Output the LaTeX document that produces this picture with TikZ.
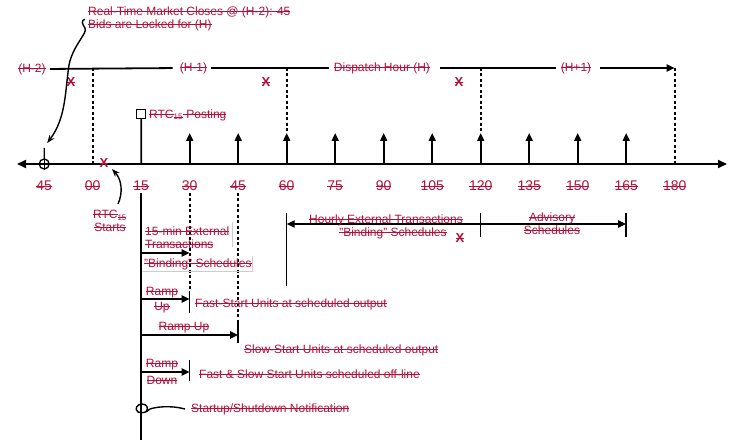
\documentclass[tikz,border=0pt]{standalone}
\usepackage{fontspec}
\setmainfont{Liberation Sans}
\usetikzlibrary{arrows.meta}
\definecolor{tred}{RGB}{178,16,58}
\newsavebox{\stbox}
\newcommand{\st}[1]{\sbox{\stbox}{#1}\rlap{\rule[0.3em]{\wd\stbox}{0.9pt}}\usebox{\stbox}}
\begin{document}
\begin{tikzpicture}[x=1pt,y=-1pt,
  ln/.style={line width=1.8pt},
  dline/.style={line width=1.8pt,dash pattern=on 3pt off 2.5pt},
  tip/.style={-{Triangle[length=8pt,width=7pt]}},
  lbl/.style={text=tred,font=\fontsize{12}{13}\selectfont,inner sep=0pt},
  num/.style={text=tred,font=\fontsize{14}{15}\selectfont,inner sep=0pt},
  xm/.style={text=tred,font=\fontsize{13}{14}\selectfont\bfseries,inner sep=0pt},
  bar/.style={line width=1.5pt},
  grayedge/.style={line width=0.6pt,black!20}]
\useasboundingbox (0,0) rectangle (730,443);
\fill[white] (0,0) rectangle (730,443);

% axis
\coordinate (axL) at (17,164);
\coordinate (axR) at (727,164);
\draw[ln,{Triangle[length=9pt,width=8pt]}-{Triangle[length=9pt,width=8pt]}] (axL) -- (axR);

% base and top coordinates
\foreach \t in {-15,0,15,...,180} {
  \pgfmathsetmacro\xx{92.7+3.2333*\t}
  \coordinate (b\t) at (\xx,164);
  \coordinate (u\t) at (\xx,133);
  \coordinate (t\t) at (\xx,68);
}
% upward arrows
\foreach \t in {30,45,...,165} {
  \draw[ln,tip] (b\t) -- (u\t);
}
% axis labels
\foreach \t/\lab in {-15/45,0/00,15/15,30/30,45/45,60/60,75/75,90/90,105/105,120/120,135/135,150/150,165/165,180/180} {
  \pgfmathsetmacro\xx{92.7+3.2333*\t}
  \node[num] (n\t) at (\xx,186) {\st{\lab}};
}

% circle-plus at 45
\node[circle,draw,line width=1.3pt,minimum size=10pt,inner sep=0pt] (circ) at (b-15) {};
\draw[line width=1.1pt] (circ.north) -- (circ.south) (circ.west) -- (circ.east);
\coordinate (stem) at (44.2,148);
\draw[line width=1.4pt] (circ.north) -- (stem);

% top timeline
\node[lbl] (h2) at (32,69) {\st{(H-2)}};
\node[lbl] (h1) at (193.5,68) {\st{(H-1)}};
\node[lbl] (hh) at (382,68) {\st{Dispatch Hour (H)}};
\node[lbl] (hp) at (576,68) {\st{(H+1)}};
\draw[ln,shorten <=4pt,shorten >=7pt] (h2.east) -- (h1.west);
\draw[ln,shorten <=4pt,shorten >=5pt] (h1.east) -- (hh.west);
\draw[ln,shorten <=10pt,shorten >=5pt] (hh.east) -- (hp.west);
\draw[ln,tip,shorten <=9pt] (hp.east) -- (t180);

% dashed verticals
\draw[dline] (t0) -- (b0);
\draw[dline] (t60) -- (u60);
\draw[dline] (t120) -- (u120);
\draw[dline] (t180) -- (b180);

% X marks
\node[xm] (x1) at (71,82) {\st{X}};
\node[xm] (x2) at (266,82) {\st{X}};
\node[xm] (x3) at (459,82) {\st{X}};
\node[xm] (x4) at (104,163) {\st{X}};
\node[xm] (x5) at (460,238) {\st{X}};

% annotation at top
\node[lbl,anchor=north west,align=left] (ann) at (88,7) {\st{Real-Time Market Closes @ (H-2): 45}\\\st{Bids are Locked for (H)}};
\draw[line width=1.4pt,-{Stealth[length=8pt,width=6pt]}] ([xshift=-3pt]ann.west) .. controls (81,20) and (82,24) .. (85,28)
  .. controls (88,33) and (73,45) .. (69,65) .. controls (65,92) and (66,118) .. ([shift={(3,-5)}]stem);

% RTC15 posting
\node[draw,line width=1.4pt,minimum size=9pt,inner sep=0pt] (sq) at (141.2,114) {};
\draw[ln] (b15) -- (sq.south);
\node[lbl,anchor=west] (post) at (149,115) {\st{RTC}\textsubscript{\st{15}}\st{\ Posting}};

% RTC15 starts
\node[lbl,align=center] (rtc) at (110,221) {\st{RTC}\textsubscript{\st{15}}\\\st{Starts}};
\coordinate (rtcs) at (118,204);
\draw[line width=1.4pt,-{Stealth[length=8pt,width=6pt]}] (rtcs) .. controls (123,193) and (122,180) .. ([shift={(8,6)}]x4.center);

% vertical line at 15 and dashed lines below
\coordinate (v15t) at (141.2,193);
\coordinate (v15b) at (141.2,440);
\draw[ln] (v15t) -- (v15b);
\coordinate (d30t) at (189.7,193);
\coordinate (d30b) at (189.7,291);
\coordinate (d45t) at (238.2,193);
\coordinate (d45b) at (238.2,322);
\draw[dline] (d30t) -- (d30b);
\draw[dline] (d45t) -- (d45b);

% 15-min external transactions
\node[lbl,anchor=west,align=left] (ext) at (145,238) {\st{15-min External}\\\st{Transactions}};
\node[lbl,anchor=west] (bind) at (144,264) {\st{"Binding" Schedules}};
\draw[grayedge] (232,222) -- (232,247);
\draw[grayedge] (142,271) -- (252,271) -- (252,256);
\coordinate (e0) at (141.2,253);
\coordinate (e1) at (189.7,253);
\draw[ln,tip] (e0) -- (e1);

% Fast start ramp up
\coordinate (f0) at (141.2,299);
\coordinate (f1) at (189.7,299);
\draw[ln,tip] (f0) -- (f1);
\coordinate (fbt) at (189.7,291);
\coordinate (fbb) at (189.7,313);
\draw[bar] (fbt) -- (fbb);
\node[lbl,align=center] (ru1) at (162,300) {\st{Ramp}\\[2pt]\st{Up}};
\node[lbl,anchor=west] (fsu) at (195,304) {\st{Fast-Start Units at scheduled output}};

% Slow start ramp up
\coordinate (s0) at (141.2,335);
\coordinate (s1) at (238.2,335);
\draw[ln,tip] (s0) -- (s1);
\coordinate (sbt) at (238.2,322);
\coordinate (sbb) at (238.2,343);
\draw[bar] (sbt) -- (sbb);
\node[lbl] (ru2) at (184,328) {\st{Ramp Up}};
\node[lbl,anchor=west] (ssu) at (244,350) {\st{Slow-Start Units at scheduled output}};

% Ramp down
\coordinate (r0) at (141.2,372);
\coordinate (r1) at (189.7,372);
\draw[ln,tip] (r0) -- (r1);
\coordinate (rbt) at (189.7,360);
\coordinate (rbb) at (189.7,381);
\draw[bar] (rbt) -- (rbb);
\node[lbl,align=center] (rd) at (162,372) {\st{Ramp}\\[4pt]\st{Down}};
\node[lbl,anchor=west] (fss) at (199,374) {\st{Fast \& Slow Start Units scheduled off-line}};

% Startup/shutdown notification
\node[lbl,anchor=west] (sn) at (191,409) {\st{Startup/Shutdown Notification}};
\draw[line width=1.4pt] ([xshift=-6pt]sn.west) .. controls (170,405) and (156,407) .. (150,409)
  .. controls (147,412) and (142,414) .. (138,412) .. controls (134,409) and (137,404) .. (142,404)
  .. controls (147,404) and (149,408) .. (146,412);

% Hourly external transactions
\coordinate (hl) at (286.7,224);
\coordinate (hr) at (626.2,224);
\draw[ln,{Triangle[length=8pt,width=7pt]}-{Triangle[length=8pt,width=7pt]}] (hl) -- (hr);
\coordinate (hlt) at (286.7,213);
\coordinate (hlb) at (286.7,286);
\draw[bar] (hlt) -- (hlb);
\coordinate (hmt) at (480.7,213);
\coordinate (hmb) at (480.7,237);
\draw[bar] (hmt) -- (hmb);
\coordinate (hrt) at (626.2,213);
\coordinate (hrb) at (626.2,237);
\draw[bar] (hrt) -- (hrb);
\node[lbl,align=center] (hext) at (386,226.5) {\st{Hourly External Transactions}\\\hspace*{14pt}\st{"Binding" Schedules}};
\node[lbl,align=center] (adv) at (552,224) {\st{Advisory}\\\st{Schedules}};
\end{tikzpicture}
\end{document}
